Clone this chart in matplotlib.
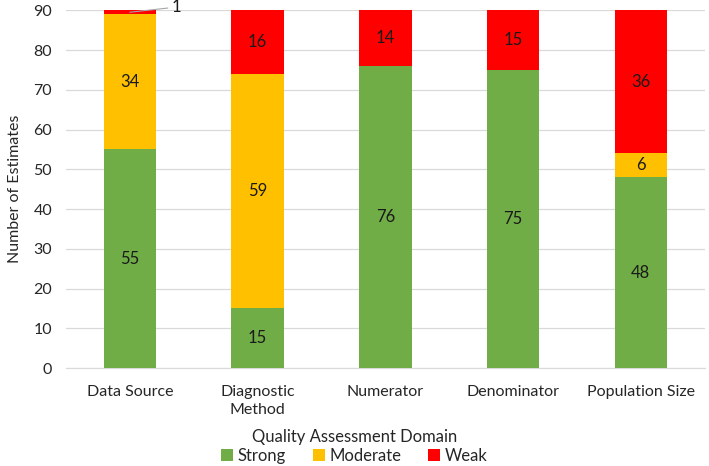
import matplotlib
matplotlib.use("Agg")
import matplotlib.pyplot as plt
import numpy as np

plt.rcParams["font.family"] = ["Lato", "DejaVu Sans"]

categories = ["Data Source", "Diagnostic\nMethod", "Numerator", "Denominator", "Population Size"]
strong = [55, 15, 76, 75, 48]
moderate = [34, 59, 0, 0, 6]
weak = [1, 16, 14, 15, 36]

colors = {"Strong": "#70AD47", "Moderate": "#FFC000", "Weak": "#FF0000"}

fig = plt.figure(figsize=(7.09, 4.66), dpi=100)
ax = fig.add_axes([0.093, 0.21, 0.901, 0.768])

x = np.arange(len(categories))
width = 0.41
bottom = np.zeros(len(categories))
for name, vals in [("Strong", strong), ("Moderate", moderate), ("Weak", weak)]:
    vals = np.array(vals, dtype=float)
    ax.bar(x, vals, width, bottom=bottom, color=colors[name], label=name, zorder=3)
    for xi, b, v in zip(x, bottom, vals):
        if v >= 5:
            ax.text(xi, b + v / 2, f"{int(v)}", ha="center", va="center",
                    fontsize=12, color="#1a1a1a", zorder=4)
    bottom += vals

# small weak slice on Data Source gets a leader line
ax.annotate(f"{weak[0]}", xy=(x[0], strong[0] + moderate[0] + weak[0] / 2),
            xytext=(x[0] + 0.33, 90.8), ha="left", va="center", fontsize=12,
            color="#1a1a1a", annotation_clip=False,
            arrowprops=dict(arrowstyle="-", color="#A6A6A6", lw=0.8, shrinkA=1, shrinkB=0))

ax.set_xlim(-0.5, len(categories) - 0.5)
ax.set_ylim(0, 90)
ax.set_yticks(range(0, 91, 10))
ax.set_xticks(x)
ax.set_xticklabels(categories, fontsize=11.5, color="#262626", linespacing=1.4)
ax.tick_params(axis="y", labelsize=11.5, colors="#262626", length=0, pad=10)
ax.tick_params(axis="x", length=0, pad=12)
ax.grid(axis="y", color="#D9D9D9", lw=0.9, zorder=0)
for s in ["top", "right", "left"]:
    ax.spines[s].set_visible(False)
ax.spines["bottom"].set_color("#D9D9D9")
ax.set_ylabel("Number of Estimates", fontsize=11.5, color="#262626", labelpad=8)

leg = fig.legend(loc="lower center", bbox_to_anchor=(0.5, -0.028), ncol=3, frameon=False,
                 title="Quality Assessment Domain", fontsize=12, title_fontsize=12,
                 handlelength=0.7, handleheight=0.7, handletextpad=0.3, columnspacing=1.6,
                 labelspacing=0.2)
for t in leg.get_texts():
    t.set_color("#262626")
leg.get_title().set_color("#262626")

fig.savefig("out.png", dpi=100)
